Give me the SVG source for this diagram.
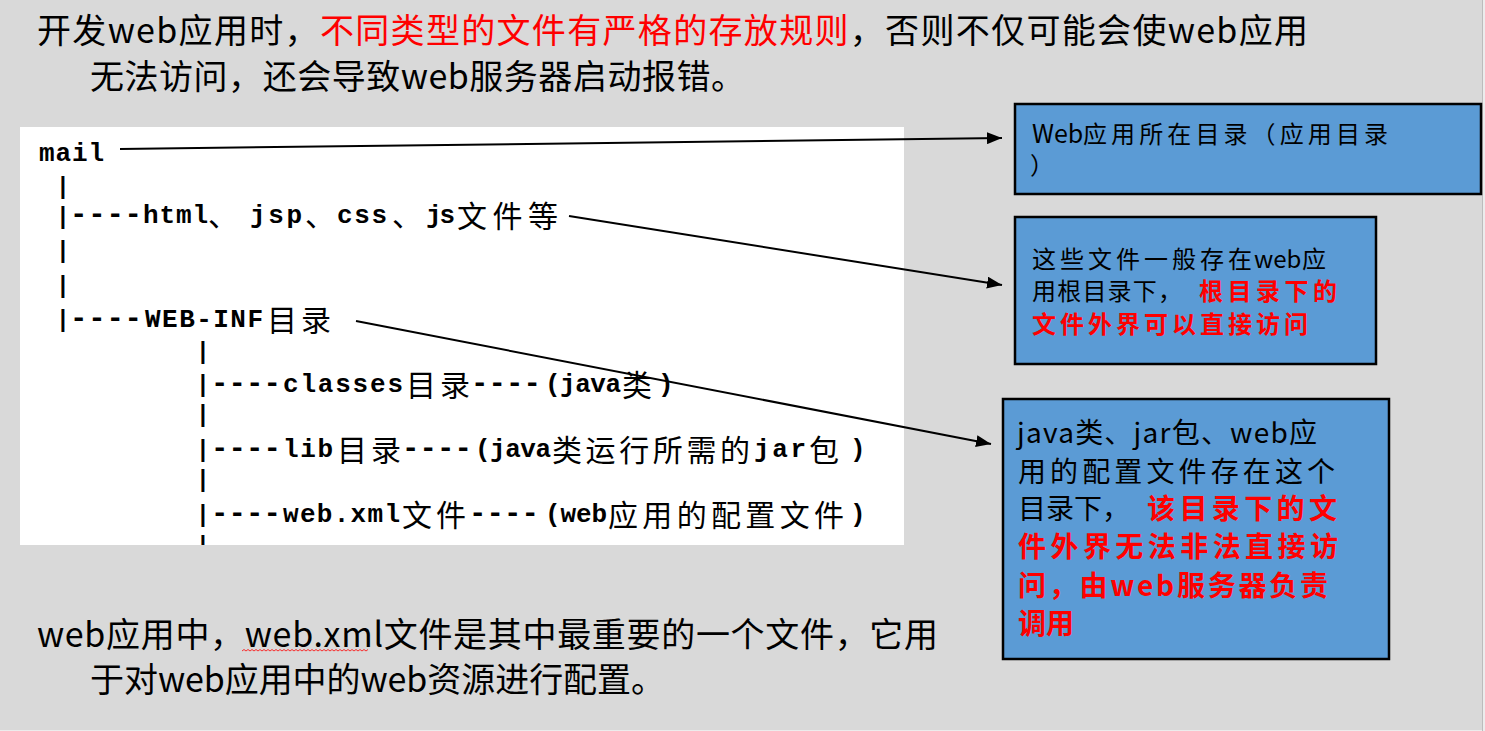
<svg xmlns="http://www.w3.org/2000/svg" width="1485" height="731" viewBox="0 0 1485 731">
<style>
.cn{font-family:"Noto Sans CJK SC","Noto Sans",sans-serif;}
.title{font-size:34px;fill:#000;}
.mono{font-family:"Liberation Mono","DejaVu Sans Mono",monospace;font-weight:bold;font-size:26px;fill:#000;}
.dash{font-family:"Liberation Mono","DejaVu Sans Mono",monospace;font-weight:bold;font-size:29px;fill:#000;}
.tc{font-family:"Noto Sans CJK SC",sans-serif;font-size:30px;fill:#000;}
.pipe{font-family:"Liberation Mono","DejaVu Sans Mono",monospace;font-weight:bold;font-size:23px;fill:#000;text-anchor:middle;}
.box{fill:#5b9bd5;stroke:#000;stroke-width:2.5;}
.bt1{font-size:24px;fill:#000;}
.bt3{font-size:28px;fill:#000;}
.conn{fill:none;stroke:#000;stroke-width:2;}
.red{fill:#ff0000;}
.b{font-weight:bold;}
</style>
<defs>
<marker id="arr" markerUnits="userSpaceOnUse" markerWidth="16" markerHeight="12" refX="15" refY="6" orient="auto">
<path d="M0,0 L15,6 L0,12 Z" fill="#000"/>
</marker>
<clipPath id="panelClip"><rect x="20" y="127" width="884" height="418"/></clipPath>
</defs>
<rect x="0" y="0" width="1485" height="731" fill="#ececec"/>
<rect x="0" y="0" width="1482" height="730" fill="#d9d9d9"/>
<line x1="1482.5" y1="0" x2="1482.5" y2="731" stroke="#bcbcbc" stroke-width="1"/>

<g id="title">
<text class="cn title" x="37" y="43" textLength="1271" lengthAdjust="spacing">开发web应用时，<tspan class="red">不同类型的文件有严格的存放规则</tspan>，否则不仅可能会使web应用</text>
<text class="cn title" x="90" y="89" textLength="655" lengthAdjust="spacing">无法访问，还会导致web服务器启动报错。</text>
</g>

<g id="tree">
<rect x="20" y="127" width="884" height="418" fill="#ffffff"/>
<g clip-path="url(#panelClip)">
<text class="mono" x="39" y="161" textLength="65" lengthAdjust="spacing">mail</text>
<text class="pipe" x="63" y="194">|</text>
<text class="pipe" x="63" y="224">|</text>
<text class="pipe" x="63" y="258">|</text>
<text class="pipe" x="63" y="293">|</text>
<text class="pipe" x="63" y="327">|</text>
<text class="dash" x="70" y="223" textLength="72" lengthAdjust="spacing">----</text>
<text class="mono" x="143" y="223" textLength="65" lengthAdjust="spacing">html</text>
<text class="tc" x="208" y="226">、</text>
<text class="mono" x="250" y="223" textLength="52" lengthAdjust="spacing">jsp</text>
<text class="tc" x="305" y="226">、</text>
<text class="mono" x="337" y="223" textLength="50" lengthAdjust="spacing">css</text>
<text class="tc" x="392" y="226">、</text>
<text class="mono" x="426" y="223" textLength="29" lengthAdjust="spacing">js</text>
<text class="tc" x="457" y="227" textLength="101" lengthAdjust="spacing">文件等</text>
<text class="dash" x="70" y="327" textLength="72" lengthAdjust="spacing">----</text>
<text class="mono" x="145" y="327" textLength="118" lengthAdjust="spacing">WEB-INF</text>
<text class="tc" x="267" y="331" textLength="64" lengthAdjust="spacing">目录</text>

<text class="pipe" x="203" y="359">|</text>
<text class="pipe" x="203" y="392">|</text>
<text class="pipe" x="203" y="422">|</text>
<text class="pipe" x="203" y="457">|</text>
<text class="pipe" x="203" y="487">|</text>
<text class="pipe" x="203" y="522">|</text>
<text class="pipe" x="203" y="553">|</text>

<text class="dash" x="211" y="392" textLength="70" lengthAdjust="spacing">----</text>
<text class="mono" x="283" y="392" textLength="120" lengthAdjust="spacing">classes</text>
<text class="tc" x="406" y="396" textLength="64" lengthAdjust="spacing">目录</text>
<text class="dash" x="471" y="392" textLength="70" lengthAdjust="spacing">----</text>
<text class="mono" x="545" y="392" textLength="76" lengthAdjust="spacing">(java</text>
<text class="tc" x="622" y="396">类</text>
<text class="mono" x="658" y="392">)</text>

<text class="dash" x="211" y="457" textLength="70" lengthAdjust="spacing">----</text>
<text class="mono" x="283" y="457" textLength="50" lengthAdjust="spacing">lib</text>
<text class="tc" x="337" y="461" textLength="64" lengthAdjust="spacing">目录</text>
<text class="dash" x="402" y="457" textLength="70" lengthAdjust="spacing">----</text>
<text class="mono" x="475" y="457" textLength="76" lengthAdjust="spacing">(java</text>
<text class="tc" x="552" y="461" textLength="198" lengthAdjust="spacing">类运行所需的</text>
<text class="mono" x="754" y="457" textLength="52" lengthAdjust="spacing">jar</text>
<text class="tc" x="809" y="461">包</text>
<text class="mono" x="850" y="457">)</text>

<text class="dash" x="211" y="522" textLength="70" lengthAdjust="spacing">----</text>
<text class="mono" x="283" y="522" textLength="117" lengthAdjust="spacing">web.xml</text>
<text class="tc" x="402" y="526" textLength="64" lengthAdjust="spacing">文件</text>
<text class="dash" x="469" y="522" textLength="70" lengthAdjust="spacing">----</text>
<text class="mono" x="545" y="522" textLength="62" lengthAdjust="spacing">(web</text>
<text class="tc" x="608" y="526" textLength="236" lengthAdjust="spacing">应用的配置文件</text>
<text class="mono" x="850" y="522">)</text>
</g>
</g>

<g id="box-app-dir">
<rect class="box" x="1015" y="104" width="466" height="90"/>
<text class="cn bt1"><tspan x="1032" y="143" style="font-size:25px">Web</tspan><tspan x="1083" y="143" textLength="305" lengthAdjust="spacing">应用所在目录（应用目录</tspan><tspan x="1030" y="174">）</tspan></text>
</g>

<g id="box-root-files">
<rect class="box" x="1015" y="217" width="361" height="147"/>
<text class="cn bt1"><tspan x="1032" y="268" textLength="220" lengthAdjust="spacing">这些文件一般存在</tspan><tspan x="1254" y="268">web</tspan><tspan x="1302" y="268">应</tspan><tspan x="1032" y="300" textLength="150" lengthAdjust="spacing">用根目录下，</tspan><tspan class="red b" x="1199" y="300" textLength="138" lengthAdjust="spacing">根目录下的</tspan><tspan class="red b" x="1032" y="333" textLength="276" lengthAdjust="spacing">文件外界可以直接访问</tspan></text>
</g>

<g id="box-web-inf">
<rect class="box" x="1003" y="399" width="386" height="260"/>
<text class="cn bt3"><tspan x="1017" y="443" textLength="300" lengthAdjust="spacing">java类、jar包、web应</tspan><tspan x="1018" y="482" textLength="317" lengthAdjust="spacing">用的配置文件存在这个</tspan><tspan x="1018" y="519">目录下，</tspan><tspan class="red b" x="1147" y="519" textLength="190" lengthAdjust="spacing">该目录下的文</tspan><tspan class="red b" x="1018" y="557" textLength="320" lengthAdjust="spacing">件外界无法非法直接访</tspan><tspan class="red b" x="1018" y="596" textLength="310" lengthAdjust="spacing">问，由web服务器负责</tspan><tspan class="red b" x="1018" y="634">调用</tspan></text>
</g>

<g id="note">
<text class="cn title" x="37" y="647" textLength="901" lengthAdjust="spacing">web应用中，web.xml文件是其中最重要的一个文件，它用</text>
<text class="cn title" x="90" y="692" textLength="575" lengthAdjust="spacing">于对web应用中的web资源进行配置。</text>
<path d="M242,651 l2,-1.5 l2,1.5 l2,-1.5 l2,1.5 l2,-1.5 l2,1.5 l2,-1.5 l2,1.5 l2,-1.5 l2,1.5 l2,-1.5 l2,1.5 l2,-1.5 l2,1.5 l2,-1.5 l2,1.5 l2,-1.5 l2,1.5 l2,-1.5 l2,1.5 l2,-1.5 l2,1.5 l2,-1.5 l2,1.5 l2,-1.5 l2,1.5 l2,-1.5 l2,1.5 l2,-1.5 l2,1.5 l2,-1.5 l2,1.5 l2,-1.5 l2,1.5 l2,-1.5 l2,1.5 l2,-1.5 l2,1.5 l2,-1.5 l2,1.5 l2,-1.5 l2,1.5 l2,-1.5 l2,1.5 l2,-1.5 l2,1.5 l2,-1.5 l2,1.5 l2,-1.5 l2,1.5 l2,-1.5 l2,1.5 l2,-1.5 l2,1.5 l2,-1.5 l2,1.5 l2,-1.5 l2,1.5 l2,-1.5 l2,1.5 l2,-1.5 l2,1.5 l2,-1.5" fill="none" stroke="#ff0000" stroke-width="0.8"/>
</g>

<g id="connectors">
<line class="conn" x1="120" y1="149" x2="1002" y2="138" marker-end="url(#arr)"/>
<line class="conn" x1="569" y1="216" x2="1002" y2="285" marker-end="url(#arr)"/>
<line class="conn" x1="356" y1="321" x2="991" y2="444" marker-end="url(#arr)"/>
</g>
</svg>
